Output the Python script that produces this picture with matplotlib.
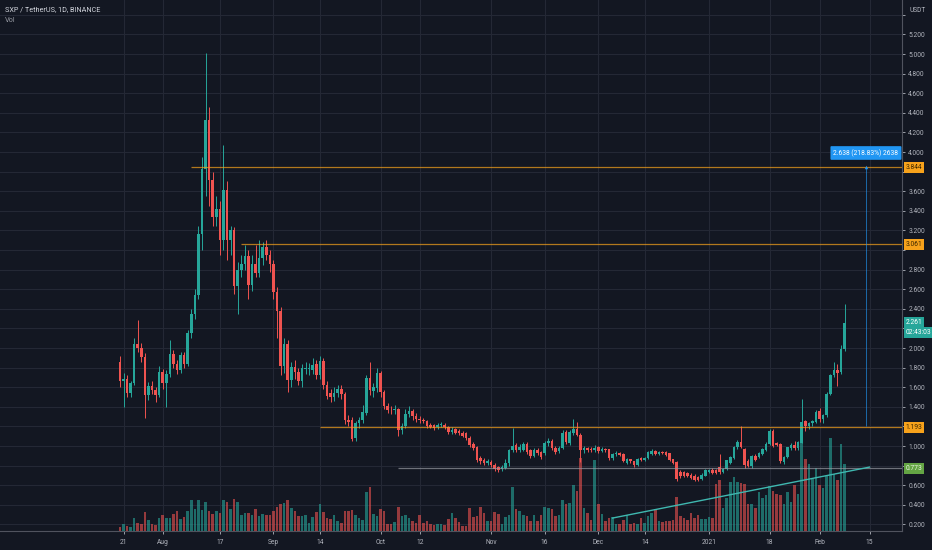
import numpy as np
import pandas as pd
import matplotlib
matplotlib.use("Agg")
import matplotlib.pyplot as plt
import matplotlib.dates as mdates
import matplotlib.transforms as mtransforms
from matplotlib.colors import to_rgba

plt.rcParams['font.family'] = ['Roboto', 'DejaVu Sans']

# daily candles SXP/USDT, first candle 2020-07-20
start = "2020-07-20"
opens = [
    1.86, 1.66, 1.68, 1.54, 1.64, 2.04, 2.00, 1.91, 1.52, 1.61,
    1.57, 1.52, 1.76, 1.64, 1.74, 1.94, 1.84, 1.78, 1.93, 1.84,
    2.15, 2.35, 2.54, 3.16, 3.83, 4.33, 3.71, 3.34, 3.42, 3.10,
    3.61, 3.10, 3.20, 2.63, 2.80, 2.86, 2.94, 2.64, 2.86, 2.77,
    2.92, 3.03, 2.95, 2.86, 2.57, 2.38, 1.82, 2.04, 1.67, 1.81,
    1.76, 1.66, 1.79, 1.79, 1.78, 1.84, 1.72, 1.87, 1.62, 1.54,
    1.50, 1.54, 1.58, 1.53, 1.27, 1.27, 1.08, 1.23, 1.27, 1.34,
    1.69, 1.565, 1.59, 1.75, 1.55, 1.41, 1.37, 1.365, 1.375, 1.16,
    1.20, 1.33, 1.36, 1.31, 1.28, 1.27, 1.26, 1.21, 1.21, 1.19,
    1.21, 1.215, 1.19, 1.14, 1.17, 1.155, 1.135, 1.13, 1.08, 1.02,
    0.99, 0.88, 0.86, 0.83, 0.84, 0.81, 0.79, 0.77, 0.78, 0.83,
    0.955, 1.01, 0.96, 0.96, 1.02, 0.96, 0.90, 0.96, 0.94, 0.93,
    1.03, 1.05, 0.98, 0.95, 0.98, 1.14, 1.03, 1.13, 1.17, 1.11,
    0.96, 0.975, 0.97, 0.955, 0.99, 0.95, 0.97, 0.965, 0.88, 0.92,
    0.93, 0.92, 0.83, 0.865, 0.845, 0.81, 0.875, 0.86, 0.875, 0.92,
    0.95, 0.92, 0.94, 0.94, 0.925, 0.865, 0.84, 0.74, 0.73, 0.72,
    0.705, 0.695, 0.68, 0.66, 0.695, 0.73, 0.76, 0.755, 0.79, 0.73,
    0.77, 0.825, 0.875, 0.985, 1.045, 0.965, 0.85, 0.795, 0.90, 0.89,
    0.92, 0.96, 1.02, 1.155, 1.035, 1.025, 0.84, 0.89, 0.975, 1.01,
    0.975, 1.035, 1.255, 1.205, 1.23, 1.25, 1.36, 1.28, 1.315, 1.535,
    1.725, 1.775, 1.76, 1.985,
]
highs = [
    1.92, 1.75, 1.72, 1.66, 2.10, 2.29, 2.05, 1.95, 1.65, 1.66,
    1.60, 1.82, 1.79, 1.78, 2.08, 1.98, 1.88, 1.96, 1.96, 2.18,
    2.40, 2.60, 3.25, 3.95, 5.01, 4.46, 3.80, 3.55, 3.50, 4.07,
    3.70, 3.25, 3.23, 2.88, 2.95, 3.05, 3.00, 2.95, 3.05, 3.10,
    3.08, 3.10, 3.00, 2.90, 2.62, 2.42, 2.10, 2.08, 1.86, 1.88,
    1.80, 1.84, 1.86, 1.85, 1.90, 1.88, 1.92, 1.90, 1.66, 1.58,
    1.60, 1.62, 1.62, 1.55, 1.32, 1.30, 1.26, 1.30, 1.42, 1.72,
    1.86, 1.64, 1.80, 1.77, 1.57, 1.44, 1.41, 1.42, 1.39, 1.24,
    1.38, 1.41, 1.38, 1.34, 1.31, 1.29, 1.27, 1.24, 1.22, 1.24,
    1.25, 1.23, 1.20, 1.19, 1.18, 1.17, 1.15, 1.14, 1.10, 1.04,
    1.00, 0.90, 0.88, 0.87, 0.86, 0.83, 0.80, 0.81, 0.87, 0.97,
    1.18, 1.03, 1.02, 1.04, 1.04, 0.97, 0.98, 0.98, 0.95, 1.05,
    1.08, 1.07, 1.00, 1.00, 1.16, 1.16, 1.16, 1.28, 1.25, 1.13,
    1.00, 0.99, 0.99, 1.01, 1.00, 0.99, 0.98, 0.97, 0.93, 0.95,
    0.94, 0.93, 0.88, 0.87, 0.85, 0.88, 0.89, 0.89, 0.95, 0.97,
    0.96, 0.95, 0.95, 0.95, 0.93, 0.87, 0.85, 0.76, 0.75, 0.74,
    0.72, 0.71, 0.69, 0.72, 0.77, 0.77, 0.78, 0.77, 0.92, 0.78,
    0.86, 0.90, 1.00, 1.06, 1.20, 0.98, 0.87, 0.91, 0.92, 0.94,
    0.98, 1.04, 1.17, 1.17, 1.04, 1.03, 0.90, 0.99, 1.03, 1.05,
    1.05, 1.48, 1.27, 1.25, 1.27, 1.37, 1.39, 1.33, 1.55, 1.74,
    1.86, 1.84, 2.03, 2.45,
]
lows = [
    1.60, 1.40, 1.50, 1.50, 1.62, 1.96, 1.86, 1.29, 1.47, 1.53,
    1.45, 1.50, 1.58, 1.40, 1.70, 1.80, 1.74, 1.75, 1.80, 1.82,
    2.10, 2.30, 2.50, 3.00, 3.55, 3.45, 3.25, 3.25, 2.95, 3.00,
    2.90, 2.95, 2.55, 2.35, 2.72, 2.80, 2.50, 2.58, 2.72, 2.72,
    2.85, 2.90, 2.78, 2.50, 2.10, 1.72, 1.75, 1.55, 1.60, 1.68,
    1.62, 1.60, 1.74, 1.72, 1.74, 1.68, 1.68, 1.58, 1.48, 1.45,
    1.46, 1.50, 1.48, 1.22, 1.20, 1.05, 1.05, 1.18, 1.24, 1.32,
    1.52, 1.50, 1.55, 1.50, 1.38, 1.34, 1.33, 1.33, 1.10, 1.12,
    1.18, 1.30, 1.27, 1.25, 1.24, 1.23, 1.18, 1.18, 1.16, 1.17,
    1.19, 1.17, 1.12, 1.12, 1.12, 1.11, 1.09, 1.06, 0.99, 0.96,
    0.84, 0.82, 0.81, 0.81, 0.79, 0.75, 0.74, 0.75, 0.77, 0.80,
    0.94, 0.94, 0.94, 0.95, 0.92, 0.88, 0.89, 0.91, 0.87, 0.91,
    1.00, 0.96, 0.92, 0.93, 0.97, 1.02, 1.01, 1.11, 1.10, 0.84,
    0.93, 0.94, 0.94, 0.94, 0.93, 0.94, 0.94, 0.86, 0.86, 0.90,
    0.90, 0.84, 0.82, 0.83, 0.79, 0.80, 0.85, 0.85, 0.87, 0.91,
    0.91, 0.91, 0.92, 0.90, 0.85, 0.82, 0.64, 0.67, 0.68, 0.68,
    0.66, 0.64, 0.64, 0.65, 0.69, 0.72, 0.71, 0.71, 0.71, 0.72,
    0.76, 0.82, 0.87, 0.97, 0.98, 0.78, 0.79, 0.78, 0.85, 0.88,
    0.91, 0.95, 1.01, 0.99, 1.00, 0.83, 0.82, 0.88, 0.96, 0.96,
    0.96, 1.03, 1.15, 1.17, 1.20, 1.24, 1.25, 1.23, 1.30, 1.52,
    1.70, 1.61, 1.74, 1.97,
]
closes = [
    1.66, 1.68, 1.54, 1.64, 2.04, 2.00, 1.91, 1.52, 1.61, 1.57,
    1.52, 1.76, 1.64, 1.74, 1.94, 1.84, 1.78, 1.93, 1.84, 2.15,
    2.35, 2.54, 3.16, 3.83, 4.33, 3.71, 3.34, 3.42, 3.10, 3.61,
    3.10, 3.20, 2.63, 2.80, 2.86, 2.94, 2.64, 2.86, 2.77, 2.92,
    3.03, 2.95, 2.86, 2.57, 2.38, 1.82, 2.04, 1.67, 1.81, 1.76,
    1.66, 1.80, 1.80, 1.80, 1.83, 1.72, 1.87, 1.62, 1.51, 1.50,
    1.54, 1.58, 1.53, 1.27, 1.25, 1.07, 1.24, 1.27, 1.35, 1.69,
    1.57, 1.60, 1.75, 1.55, 1.41, 1.37, 1.365, 1.375, 1.16, 1.20,
    1.33, 1.36, 1.31, 1.28, 1.27, 1.26, 1.20, 1.195, 1.18, 1.21,
    1.225, 1.19, 1.14, 1.16, 1.135, 1.13, 1.10, 1.08, 1.01, 0.98,
    0.86, 0.845, 0.83, 0.845, 0.81, 0.765, 0.76, 0.79, 0.83, 0.955,
    1.00, 0.96, 0.995, 1.02, 0.94, 0.90, 0.96, 0.93, 0.89, 1.03,
    1.05, 0.98, 0.94, 0.98, 1.13, 1.04, 1.14, 1.17, 1.11, 0.96,
    0.975, 0.955, 0.955, 0.975, 0.95, 0.97, 0.96, 0.88, 0.92, 0.93,
    0.91, 0.85, 0.865, 0.845, 0.81, 0.87, 0.86, 0.875, 0.94, 0.95,
    0.92, 0.94, 0.925, 0.91, 0.86, 0.83, 0.66, 0.69, 0.695, 0.69,
    0.67, 0.655, 0.655, 0.705, 0.755, 0.755, 0.72, 0.72, 0.73, 0.77,
    0.855, 0.89, 0.99, 1.045, 0.995, 0.805, 0.795, 0.90, 0.855, 0.925,
    0.965, 1.025, 1.155, 1.00, 1.01, 0.85, 0.89, 0.985, 1.01, 0.975,
    1.045, 1.25, 1.205, 1.24, 1.26, 1.35, 1.28, 1.315, 1.535, 1.725,
    1.775, 1.75, 1.985, 2.26,
]
volume = [
    4, 7, 5, 4, 13, 8, 7, 19, 11, 7,
    6, 13, 16, 13, 13, 17, 20, 12, 14, 20,
    31, 22, 31, 21, 29, 20, 17, 20, 18, 31,
    29, 22, 32, 29, 16, 18, 18, 16, 22, 15,
    17, 16, 16, 20, 24, 27, 28, 31, 23, 20,
    15, 15, 16, 8, 14, 19, 27, 19, 13, 12,
    16, 10, 8, 20, 20, 21, 16, 13, 11, 39,
    44, 17, 15, 22, 20, 7, 7, 9, 24, 15,
    16, 13, 10, 8, 16, 8, 10, 7, 6, 7,
    7, 6, 12, 18, 13, 9, 5, 5, 23, 14,
    15, 24, 18, 10, 10, 19, 17, 7, 14, 16,
    44, 22, 20, 16, 15, 10, 16, 10, 16, 24,
    23, 22, 15, 16, 31, 27, 28, 46, 40, 73,
    23, 18, 11, 71, 27, 17, 10, 13, 14, 7,
    7, 11, 16, 7, 8, 7, 13, 8, 15, 18,
    22, 10, 9, 10, 10, 11, 34, 15, 13, 11,
    18, 13, 16, 12, 12, 14, 13, 47, 51, 23,
    33, 49, 54, 49, 48, 47, 27, 27, 23, 39,
    33, 36, 45, 40, 37, 36, 27, 39, 29, 46,
    37, 90, 72, 67, 52, 63, 46, 43, 55, 93,
    57, 51, 87, 67,
]

tick_dates = ["2020-07-21", "2020-08-01", "2020-08-17", "2020-09-01", "2020-09-14",
              "2020-10-01", "2020-10-12", "2020-11-01", "2020-11-16", "2020-12-01",
              "2020-12-14", "2021-01-01", "2021-01-18", "2021-02-01", "2021-02-15"]
tick_labels = ["21", "Aug", "17", "Sep", "14", "Oct", "12", "Nov", "16", "Dec",
               "14", "2021", "18", "Feb", "15"]
price_ticks = [0.2, 0.4, 0.6, 0.8, 1.0, 1.2, 1.4, 1.6, 1.8, 2.0, 2.2, 2.4, 2.6,
               2.8, 3.0, 3.2, 3.4, 3.6, 3.8, 4.0, 4.2, 4.4, 4.6, 4.8, 5.0, 5.2, 5.4]
# price tick labels hidden behind the axis badges
hidden_ticks = [0.8, 1.2, 2.2, 3.0, 3.8, 5.4]

# drawn horizontal rays
levels = [3.844, 3.061, 1.193, 0.773]
level_starts = ["2020-08-09", "2020-08-23", "2020-09-14", "2020-10-06"]
# trend line and measure tool
trend_dates = ["2020-12-05", "2021-02-15"]
trend_prices = [0.265, 0.785]
measure_date = "2021-02-14"
measure_low, measure_high = 1.206, 3.844
measure_text = "2.638 (218.83%) 2638"
last_price = 2.261
countdown = "02:43:03"

BG = "#131722"
UP = "#26a69a"
DOWN = "#ef5350"
GRID = "#242835"
TXT = "#b2b5be"
ORANGE = "#f7a21b"
LVL_GREEN = "#64a544"

dates = pd.date_range(start, periods=len(closes), freq="D")
xs = mdates.date2num(dates)
o = np.array(opens)
c = np.array(closes)
h = np.array(highs)
l = np.array(lows)
up = c >= o
cols = np.where(up, UP, DOWN)

fig = plt.figure(figsize=(9.32, 5.5), dpi=100, facecolor=BG)
rect = [0, 19 / 550, 902 / 932, 531 / 550]
ax_bg = fig.add_axes(rect, facecolor=BG)
ax_v = fig.add_axes(rect, sharex=ax_bg, facecolor="none")
ax = fig.add_axes(rect, sharex=ax_bg, sharey=ax_bg, facecolor="none")

x0 = xs[0]
ax_bg.set_xlim(x0 - 33.6, x0 + 219.1)
ax_bg.set_ylim(0.133, 5.551)

ax_bg.set_yticks(price_ticks)
ax_bg.set_yticklabels(["" if v in hidden_ticks else f"{v:.3f}" for v in price_ticks])
ax_bg.yaxis.tick_right()
ax_bg.set_xticks(mdates.date2num(pd.to_datetime(tick_dates)))
ax_bg.set_xticklabels(tick_labels)
ax_bg.grid(True, color=GRID, lw=0.8)
ax_bg.tick_params(colors=TXT, labelsize=4.8, length=2.5, width=0.6, pad=2)
ax_bg.tick_params(axis="x", pad=3)
for s in ["top", "left"]:
    ax_bg.spines[s].set_visible(False)
for s in ["right", "bottom"]:
    ax_bg.spines[s].set_color("#50535e")
    ax_bg.spines[s].set_linewidth(0.8)

# volume
vcols = [to_rgba(UP if u else DOWN, 0.6) for u in up]
ax_v.bar(xs, volume, width=0.72, color=vcols, linewidth=0)
ax_v.set_ylim(0, max(volume) / 0.175)
ax_v.axis("off")

# candles
ax.vlines(xs, l, h, colors=cols, lw=0.7)
ax.bar(xs, np.maximum(np.abs(c - o), 0.006), bottom=np.minimum(o, c),
       width=0.72, color=cols, linewidth=0)
ax.axis("off")

xr = ax_bg.get_xlim()[1]
lvl_line_cols = [ORANGE, ORANGE, ORANGE, "#9598a1"]
lvl_box_cols = [ORANGE, ORANGE, ORANGE, LVL_GREEN]
lvl_txt_cols = ["#3b2600", "#3b2600", "#3b2600", "#e8f5e0"]
trans = mtransforms.blended_transform_factory(ax_bg.transAxes, ax_bg.transData)
for lv, st, lc, bc, tc in zip(levels, level_starts, lvl_line_cols, lvl_box_cols, lvl_txt_cols):
    ax.hlines(lv, mdates.date2num(pd.Timestamp(st)), xr, colors=lc, lw=0.9, alpha=0.7)
    ax_bg.text(1.004, lv, f"{lv:.3f}", transform=trans, ha="left", va="center",
               fontsize=4.8, color=tc,
               bbox=dict(boxstyle="square,pad=0.3", fc=bc, ec="none"))

ax.plot(mdates.date2num(pd.to_datetime(trend_dates)), trend_prices, color="#3fb8b0", lw=1.0)

# measure tool
xm = mdates.date2num(pd.Timestamp(measure_date))
ax.vlines(xm, measure_low, measure_high, colors="#2196f3", lw=0.6, alpha=0.75)
ax.plot([xm], [measure_high], marker="^", ms=2.5, color="#2196f3", mec="none")
ax.text(xm, 3.99, measure_text, ha="center", va="center", fontsize=4.8, color="white",
        bbox=dict(boxstyle="round,pad=0.45,rounding_size=0.15", fc="#2196f3", ec="none"))

# last price label
ax_bg.text(1.004, last_price, f"{last_price:.3f}", transform=trans, ha="left", va="center",
           fontsize=4.8, color="white", bbox=dict(boxstyle="square,pad=0.3", fc=UP, ec="none"))
ax_bg.annotate(countdown, xy=(1.004, last_price), xycoords=trans, xytext=(0, -7),
               textcoords="offset points", ha="left", va="center", fontsize=4.8,
               color="white", bbox=dict(boxstyle="square,pad=0.3", fc=UP, ec="none"),
               annotation_clip=False)

fig.text(918 / 932, 1 - 11 / 550, "USDT", ha="center", va="center", fontsize=4.8,
         color=TXT)
fig.text(5 / 932, 1 - 10 / 550, "SXP / TetherUS, 1D, BINANCE", ha="left", va="center",
         fontsize=5.2, color="#d1d4dc")
fig.text(5 / 932, 1 - 21 / 550, "Vol", ha="left", va="center", fontsize=5.2, color="#9598a1")

fig.savefig("out.png", dpi=100, facecolor=BG)
